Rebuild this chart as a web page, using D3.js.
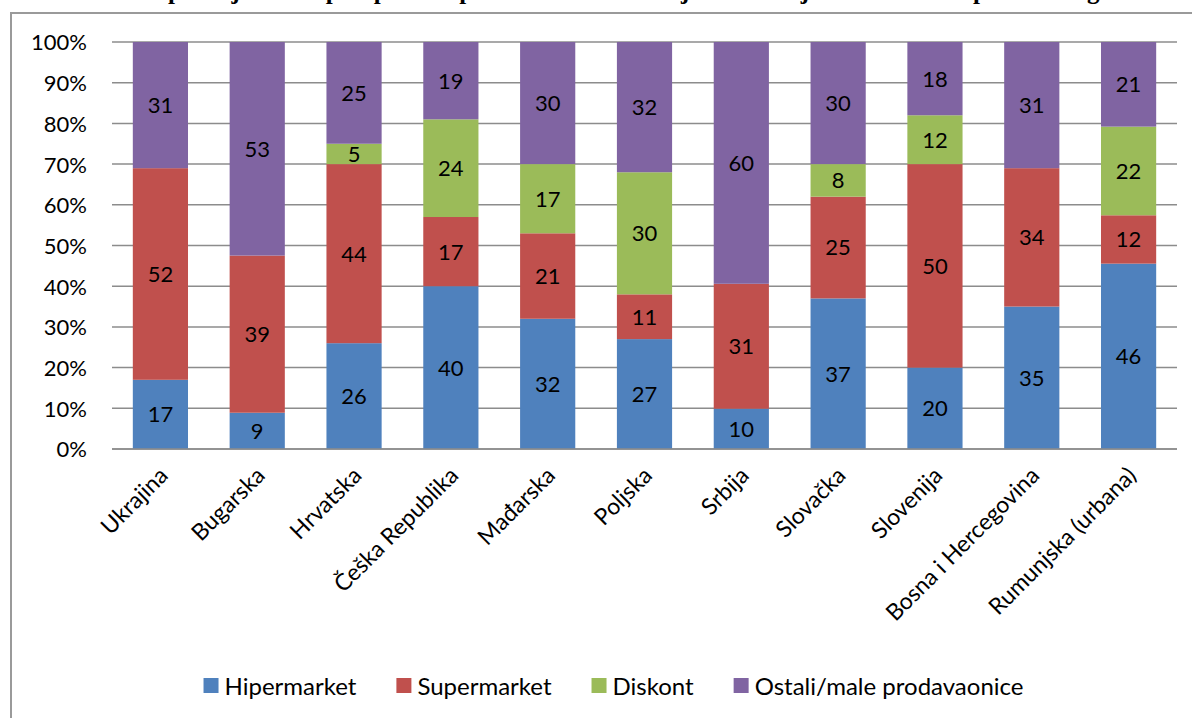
<!DOCTYPE html>
<html>
<head>
<meta charset="utf-8">
<script src="https://cdn.jsdelivr.net/npm/d3@7"></script>
<style>
  html, body { margin: 0; padding: 0; background: #fff; }
  svg { display: block; }
</style>
</head>
<body>
<svg id="chart" width="1192" height="718"></svg>
<script>
const titleText = "Udio prodaje hrane po tipovima prodavaonica u zemljama srednje i istočne Europe u 2008. godini";
const categories = ["Ukrajina", "Bugarska", "Hrvatska", "Češka Republika", "Mađarska", "Poljska", "Srbija", "Slovačka", "Slovenija", "Bosna i Hercegovina", "Rumunjska (urbana)"];
const seriesNames = ["Hipermarket", "Supermarket", "Diskont", "Ostali/male prodavaonice"];
const hipermarket = [17, 9, 26, 40, 32, 27, 10, 37, 20, 35, 46];
const supermarket = [52, 39, 44, 17, 21, 11, 31, 25, 50, 34, 12];
const diskont     = [0, 0, 5, 24, 17, 30, 0, 8, 12, 0, 22];
const ostali      = [31, 53, 25, 19, 30, 32, 60, 30, 18, 31, 21];
const yTicks = [0, 0.1, 0.2, 0.3, 0.4, 0.5, 0.6, 0.7, 0.8, 0.9, 1.0];
const colors = ["#4F81BD", "#C0504D", "#9BBB59", "#8064A2"];

const seriesValues = [hipermarket, supermarket, diskont, ostali];
const keys = ["h", "s", "d", "o"];
const rows = categories.map((c, i) => {
  const r = { cat: c };
  keys.forEach((k, j) => r[k] = seriesValues[j][i]);
  return r;
});

const svg = d3.select("#chart");
const FONT = "Lato, 'Open Sans', sans-serif";

// outer chart border
svg.append("rect")
  .attr("x", 11).attr("y", 13)
  .attr("width", 1200).attr("height", 720)
  .attr("fill", "none").attr("stroke", "#9a9a9a").attr("stroke-width", 2);

// title (cut off at the top, as in the reference)
svg.append("text")
  .attr("x", 632).attr("y", -1)
  .attr("text-anchor", "middle")
  .attr("font-family", "'Liberation Serif', 'Times New Roman', serif")
  .attr("font-weight", "bold")
  .attr("font-size", 25)
  .attr("fill", "#000")
  .text(titleText);

const x = d3.scaleBand().domain(categories).range([112, 1177]).paddingInner(0.43).paddingOuter(0.215);
const y = d3.scaleLinear().domain([0, 1]).range([449, 42]);

// gridlines
svg.append("g").selectAll("line").data(yTicks).join("line")
  .attr("x1", 112).attr("x2", 1177)
  .attr("y1", d => y(d)).attr("y2", d => y(d))
  .attr("stroke", "#8c8c8c").attr("stroke-width", 1.5);

// y axis labels
const yAxis = d3.axisLeft(y).tickValues(yTicks).tickFormat(d3.format(".0%")).tickSize(0).tickPadding(0);
const yg = svg.append("g").attr("transform", "translate(87,0)").call(yAxis);
yg.select(".domain").remove();
yg.selectAll("text").attr("font-family", FONT).attr("font-size", 22).attr("fill", "#000").attr("dy", "0.36em");

// stacked bars
const stack = d3.stack().keys(keys).offset(d3.stackOffsetExpand);
const stacked = stack(rows);

const layers = svg.append("g").selectAll("g").data(stacked).join("g")
  .attr("fill", (d, i) => colors[i]);
layers.selectAll("rect").data(d => d.filter(p => p[1] - p[0] > 0)).join("rect")
  .attr("x", d => x(d.data.cat))
  .attr("width", x.bandwidth())
  .attr("y", d => y(d[1]))
  .attr("height", d => y(d[0]) - y(d[1]));

// data labels
const labelsG = svg.append("g");
stacked.forEach((layer, i) => {
  layer.forEach(p => {
    const v = p.data[keys[i]];
    if (!v) return;
    labelsG.append("text")
      .attr("x", x(p.data.cat) + x.bandwidth() / 2)
      .attr("y", y((p[0] + p[1]) / 2))
      .attr("dy", "0.36em")
      .attr("text-anchor", "middle")
      .attr("font-family", FONT).attr("font-size", 22).attr("fill", "#000")
      .text(v);
  });
});

// x axis baseline
svg.append("line").attr("x1", 112).attr("x2", 1177).attr("y1", y(0)).attr("y2", y(0))
  .attr("stroke", "#8c8c8c").attr("stroke-width", 1.5);

// x labels
svg.append("g").selectAll("text").data(categories).join("text")
  .attr("transform", d => `translate(${x(d) + x.bandwidth() / 2 + 9},477) rotate(-45)`)
  .attr("text-anchor", "end")
  .attr("font-family", FONT).attr("font-size", 23).attr("fill", "#000")
  .text(d => d);

// legend
const legend = svg.append("g");
const items = legend.selectAll("g").data(seriesNames).join("g");
items.append("rect").attr("width", 15).attr("height", 15).attr("y", 678)
  .attr("fill", (d, i) => colors[i]);
items.append("text").attr("x", 21).attr("y", 686).attr("dy", "0.36em")
  .attr("font-family", FONT).attr("font-size", 24).attr("fill", "#000")
  .text(d => d);
let widths = [];
items.each(function() { widths.push(d3.select(this).select("text").node().getComputedTextLength()); });
const gap = 40;
const total = widths.reduce((a, w) => a + 21 + w, 0) + gap * (widths.length - 1);
let cx = 613.5 - total / 2;
items.each(function(d, i) {
  d3.select(this).attr("transform", `translate(${cx},0)`);
  cx += 21 + widths[i] + gap;
});
</script>
</body>
</html>
